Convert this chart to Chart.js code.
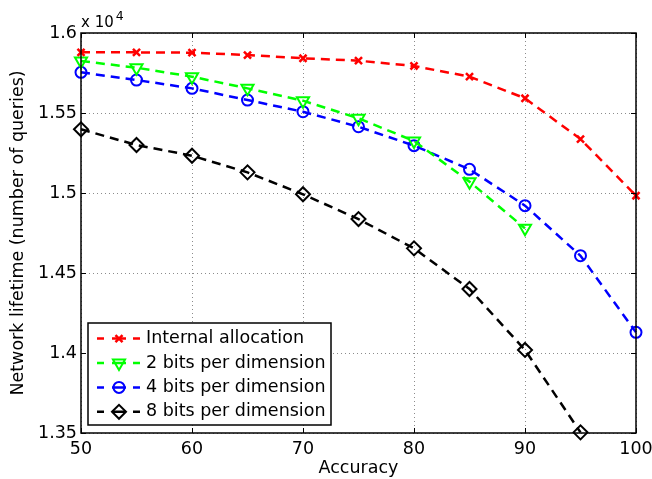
<!DOCTYPE html>
<html><head><meta charset="utf-8">
<script src="https://cdn.jsdelivr.net/npm/chart.js@4"></script>
<style>html,body{margin:0;padding:0;background:#fff}#wrap{width:652px;height:479px}</style>
</head><body><div id="wrap"><canvas id="c" width="652" height="479"></canvas></div>
<script>
const accuracy = [50, 55, 60, 65, 70, 75, 80, 85, 90, 95, 100];
const internalAllocation = [1.5879, 1.5879, 1.5877, 1.5862, 1.5842, 1.5827, 1.5794, 1.5727, 1.5592, 1.5337, 1.4983];
const bits2 = [1.5825, 1.5783, 1.5727, 1.5654, 1.5577, 1.5467, 1.5325, 1.5071, 1.4779];
const bits4 = [1.5754, 1.5706, 1.5654, 1.5581, 1.5508, 1.5414, 1.5296, 1.5148, 1.4921, 1.4608, 1.4129];
const bits8 = [1.5398, 1.5300, 1.5233, 1.5129, 1.4992, 1.4837, 1.4654, 1.4400, 1.4019, 1.3504];
const seriesLabels = ['Internal allocation', '2 bits per dimension', '4 bits per dimension', '8 bits per dimension'];
const xTicks = [50, 60, 70, 80, 90, 100];
const yTicks = [1.35, 1.4, 1.45, 1.5, 1.55, 1.6];
const yTickLabels = ['1.35', '1.4', '1.45', '1.5', '1.55', '1.6'];
const exponentLabel = ['x 10', '4'];

const FONT = 'DejaVu Sans';
Chart.defaults.font.family = FONT;
Chart.defaults.color = '#000';

function pts(arr) { return arr.map((v, i) => ({ x: accuracy[i], y: v })); }

const styles = [
  { color: '#ff0000', pointStyle: 'crossRot', radius: 5, rotation: 0, pw: 2.5 },
  { color: '#00ff00', pointStyle: 'triangle', radius: 7, rotation: 180, pw: 2 },
  { color: '#0000ff', pointStyle: 'circle', radius: 5.5, rotation: 0, pw: 2 },
  { color: '#000000', pointStyle: 'rectRot', radius: 7, rotation: 0, pw: 2 }
];
const seriesData = [internalAllocation, bits2, bits4, bits8];

const datasets = seriesData.map((arr, k) => ({
  label: seriesLabels[k],
  data: pts(arr),
  borderColor: styles[k].color,
  backgroundColor: 'rgba(0,0,0,0)',
  borderWidth: 2.5,
  borderDash: [9, 6],
  pointStyle: styles[k].pointStyle,
  pointRadius: styles[k].radius,
  pointRotation: styles[k].rotation,
  pointBorderWidth: styles[k].pw,
  pointBorderColor: styles[k].color,
  pointBackgroundColor: 'rgba(0,0,0,0)',
  fill: false,
  tension: 0,
  clip: false
}));

const framePlugin = {
  id: 'frame',
  afterDatasetsDraw(chart) {
    const ctx = chart.ctx, ca = chart.chartArea;
    const xs = chart.scales.x, ys = chart.scales.y;
    ctx.save();
    ctx.setLineDash([]);
    ctx.strokeStyle = '#000';
    ctx.lineWidth = 1;
    ctx.beginPath();
    xTicks.forEach(v => {
      const px = Math.round(xs.getPixelForValue(v)) + 0.5;
      ctx.moveTo(px, ca.bottom); ctx.lineTo(px, ca.bottom - 5);
      ctx.moveTo(px, ca.top); ctx.lineTo(px, ca.top + 5);
    });
    yTicks.forEach(v => {
      const py = Math.round(ys.getPixelForValue(v)) + 0.5;
      ctx.moveTo(ca.left, py); ctx.lineTo(ca.left + 5, py);
      ctx.moveTo(ca.right, py); ctx.lineTo(ca.right - 5, py);
    });
    ctx.stroke();
    ctx.lineWidth = 1.5;
    ctx.strokeRect(ca.left, ca.top, ca.right - ca.left, ca.bottom - ca.top);
    ctx.fillStyle = '#000';
    ctx.textBaseline = 'alphabetic';
    ctx.textAlign = 'left';
    ctx.font = '15px "' + FONT + '"';
    ctx.fillText(exponentLabel[0], ca.left, ca.top - 6);
    const w = ctx.measureText(exponentLabel[0]).width;
    ctx.font = '12.5px "' + FONT + '"';
    ctx.fillText(exponentLabel[1], ca.left + w + 2, ca.top - 13);

    const bx = ca.left + 7, bw = 243, bh = 102;
    const by = ca.bottom - 8 - bh;
    ctx.fillStyle = '#fff';
    ctx.fillRect(bx, by, bw, bh);
    ctx.lineWidth = 1.5;
    ctx.strokeStyle = '#000';
    ctx.strokeRect(bx, by, bw, bh);
    chart.data.datasets.forEach((ds, k) => {
      const cy = by + 15.6 + k * 24.4;
      ctx.save();
      ctx.strokeStyle = ds.borderColor;
      ctx.lineWidth = 2.5;
      ctx.setLineDash([7, 8, 14, 7]);
      ctx.beginPath();
      ctx.moveTo(bx + 9, cy); ctx.lineTo(bx + 53, cy);
      ctx.stroke();
      ctx.setLineDash([]);
      ctx.lineWidth = ds.pointBorderWidth;
      ctx.fillStyle = 'rgba(0,0,0,0)';
      Chart.helpers.drawPoint(ctx, {
        pointStyle: ds.pointStyle, radius: ds.pointRadius, rotation: ds.pointRotation,
        borderWidth: ds.pointBorderWidth
      }, bx + 31, cy);
      ctx.restore();
      ctx.fillStyle = '#000';
      ctx.font = '17.5px "' + FONT + '"';
      ctx.textBaseline = 'middle';
      ctx.textAlign = 'left';
      ctx.fillText(ds.label, bx + 58, cy);
    });
    ctx.restore();
  }
};

new Chart(document.getElementById('c'), {
  type: 'line',
  data: { datasets },
  options: {
    responsive: false,
    animation: false,
    devicePixelRatio: 1,
    layout: { padding: { top: 33, right: 16, left: 0, bottom: 0 } },
    plugins: { legend: { display: false }, tooltip: { enabled: false }, title: { display: false } },
    scales: {
      x: {
        type: 'linear', min: 50, max: 100,
        afterBuildTicks: s => { s.ticks = xTicks.map(v => ({ value: v })); },
        afterFit: s => { s.height = 46; s.paddingLeft = 0; s.paddingRight = 0; },
        grid: { drawTicks: false, color: '#8c8c8c', lineWidth: 1 },
        border: { display: false, dash: [1, 3] },
        ticks: { padding: 6, font: { size: 17.5 }, color: '#000', maxRotation: 0 },
        title: { display: true, text: 'Accuracy', font: { size: 17.5 }, color: '#000', padding: { top: 0, bottom: 0 } }
      },
      y: {
        type: 'linear', min: 1.35, max: 1.6,
        afterBuildTicks: s => { s.ticks = yTicks.map(v => ({ value: v })); },
        afterFit: s => { s.width = 81; s.paddingTop = 0; s.paddingBottom = 0; },
        grid: { drawTicks: false, color: '#8c8c8c', lineWidth: 1 },
        border: { display: false, dash: [1, 3] },
        ticks: { padding: 4, font: { size: 17.5 }, color: '#000',
          callback: (v) => { const i = yTicks.findIndex(t => Math.abs(t - v) < 1e-9); return i >= 0 ? yTickLabels[i] : ''; } },
        title: { display: true, text: 'Network lifetime (number of queries)', font: { size: 17.5 }, color: '#000', padding: { top: 8, bottom: 0 } }
      }
    }
  },
  plugins: [framePlugin]
});
</script>
</body></html>
